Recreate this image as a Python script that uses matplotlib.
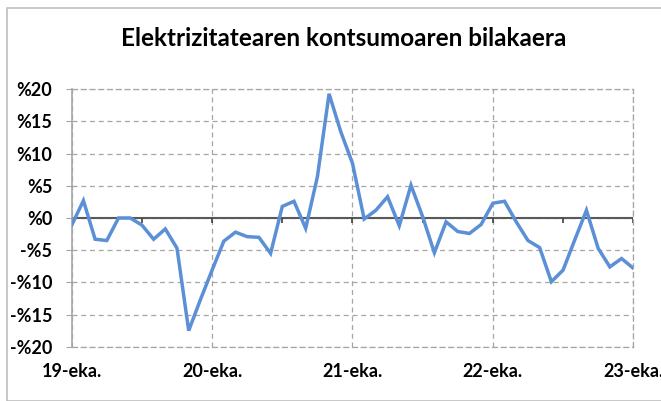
import numpy as np
import matplotlib.pyplot as plt
from matplotlib.patches import Rectangle

plt.rcParams['font.family'] = ['Lato', 'DejaVu Sans']

# monthly change, 2019-01 .. 2023-01
values = [-1.1, 2.7, -3.3, -3.5, 0.0, 0.0, -1.1, -3.3, -1.7, -4.7, -17.5, -12.7,
          -8.1, -3.6, -2.2, -2.9, -3.0, -5.5, 1.8, 2.6, -1.6, 6.4, 19.3, 13.4,
          8.5, -0.15, 1.2, 3.3, -1.2, 5.1, 0.2, -5.4, -0.6, -2.1, -2.4, -1.0,
          2.3, 2.6, -0.6, -3.5, -4.6, -9.9, -8.1, -3.4, 1.2, -4.7, -7.6, -6.3,
          -7.8]
year_labels = ['19-eka.', '20-eka.', '21-eka.', '22-eka.', '23-eka.']
y_ticks = [-20, -15, -10, -5, 0, 5, 10, 15, 20]
title = 'Elektrizitatearen kontsumoaren bilakaera'

months = np.arange(len(values))

fig = plt.figure(figsize=(6.61, 4.01), dpi=100)
fig.patches.append(Rectangle((7 / 661, 0), 1, 1 - 8 / 401, transform=fig.transFigure,
                             fill=False, edgecolor='#bfbfbf', linewidth=1.2))
ax = fig.add_axes([0.1085, 0.1354, 0.958 - 0.1085, 0.7773 - 0.1354])

grid_kw = dict(color='#a6a6a6', linestyle=(0, (4, 3)), linewidth=0.9)
ax.grid(True, **grid_kw)
ax.set_axisbelow(True)

ax.set_xlim(0, 48)
ax.set_ylim(-20, 20)

# horizontal axis at zero with half-year ticks (drawn under the series)
ax.axhline(0, color='#595959', linewidth=1.5, zorder=2)
ax.vlines(np.arange(0, 49, 6), -0.75, 0, color='#404040', linewidth=1.2, zorder=2)

ax.plot(months, values, color='#5b8fd6', linewidth=2.5, solid_joinstyle='miter', zorder=3)

ax.set_xticks(np.arange(0, 49, 12))
ax.set_xticklabels(year_labels)
ax.set_yticks(y_ticks)
ax.set_yticklabels(['%' + str(v) if v >= 0 else '-%' + str(-v) for v in y_ticks])

for lab in ax.get_xticklabels() + ax.get_yticklabels():
    lab.set_fontweight('bold')
    lab.set_fontsize(13)
ax.tick_params(axis='x', length=0, pad=12)
ax.tick_params(axis='y', length=4, color='#a6a6a6', pad=10)

for side in ['top', 'right', 'bottom']:
    ax.spines[side].set_linestyle((0, (4, 3)))
    ax.spines[side].set_color('#a6a6a6')
    ax.spines[side].set_linewidth(0.9)
ax.spines['left'].set_color('#a6a6a6')
ax.spines['left'].set_linewidth(1.2)

fig.text(0.52, 1 - 38 / 401, title, ha='center', va='center',
         fontsize=17.5, fontweight='bold')

fig.savefig('out.png', dpi=100)
